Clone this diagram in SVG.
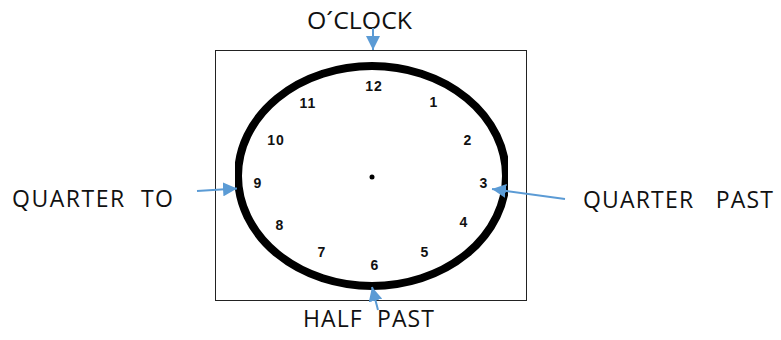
<svg xmlns="http://www.w3.org/2000/svg" width="781" height="340" viewBox="0 0 781 340">
<style>
.lbl{font-family:"Open Sans","Liberation Sans",Arial,sans-serif;font-size:23px;fill:#111}
.num{font-family:"Liberation Sans",Arial,sans-serif;font-size:14px;font-weight:bold;fill:#111;text-anchor:middle;letter-spacing:1px}
.arr{stroke:#5B9BD5;stroke-width:2;fill:none;marker-end:url(#ah)}
</style>
<defs>
<marker id="ah" markerUnits="userSpaceOnUse" markerWidth="15" markerHeight="14" refX="14" refY="7" orient="auto">
<path d="M0,0 L14,7 L0,14 Z" fill="#5B9BD5"/>
</marker>
<clipPath id="clk"><rect x="235" y="40" width="273" height="260"/></clipPath>
</defs>
<rect width="781" height="340" fill="#fff"/>
<g id="frame"><rect x="215.5" y="50.5" width="311" height="250" fill="#fff" stroke="#222" stroke-width="1"/></g>
<g id="clock">
<ellipse cx="372" cy="176" rx="134" ry="110" fill="none" stroke="#000" stroke-width="8" clip-path="url(#clk)"/>
<circle cx="372" cy="177" r="2.5" fill="#000"/>
<text class="num" x="374" y="91">12</text>
<text class="num" x="434" y="107">1</text>
<text class="num" x="468" y="145">2</text>
<text class="num" x="484" y="188">3</text>
<text class="num" x="464" y="227">4</text>
<text class="num" x="425" y="257">5</text>
<text class="num" x="375" y="270">6</text>
<text class="num" x="322" y="257">7</text>
<text class="num" x="280" y="230">8</text>
<text class="num" x="258" y="188">9</text>
<text class="num" x="276" y="145">10</text>
<text class="num" x="308" y="108">11</text>
</g>
<g id="labels">
<text id="oclock" class="lbl" x="307" y="29" textLength="105" lengthAdjust="spacingAndGlyphs">O´CLOCK</text>
<text id="qto" class="lbl" x="12" y="207" textLength="161" lengthAdjust="spacing" xml:space="preserve">QUARTER  TO</text>
<text id="qpast" class="lbl" x="583" y="208" textLength="190" lengthAdjust="spacing" xml:space="preserve">QUARTER   PAST</text>
<text id="hpast" class="lbl" x="303" y="327" textLength="131" lengthAdjust="spacing" xml:space="preserve">HALF  PAST</text>
</g>
<g id="connectors">
<line class="arr" x1="373" y1="28" x2="373" y2="50"/>
<line class="arr" x1="197" y1="191" x2="237" y2="188.5"/>
<line class="arr" x1="565" y1="199" x2="492" y2="189"/>
<line class="arr" x1="378" y1="310" x2="372" y2="287"/>
</g>
</svg>
